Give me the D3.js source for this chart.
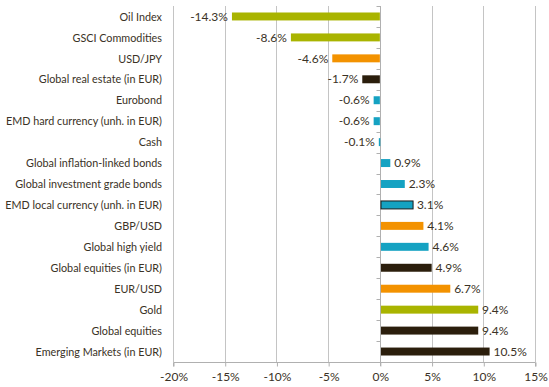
<!DOCTYPE html>
<html lang="en">
<head>
    <meta charset="UTF-8">
    <title>Asset class returns</title>
    <script src="https://d3js.org/d3.v7.min.js"></script>
    <style>
        body {
            margin: 0;
            padding: 0;
            background: #fff;
            font-family: Lato, "Open Sans", Arial, sans-serif;
        }
        text {
            fill: #3a3226;
        }
        .grid line {
            stroke: #c4c4c4;
            stroke-width: 1px;
        }
    </style>
</head>
<body>
    <script>
        // chart data
        const categories = [
            'Oil Index', 'GSCI Commodities', 'USD/JPY', 'Global real estate (in EUR)',
            'Eurobond', 'EMD hard currency (unh. in EUR)', 'Cash', 'Global inflation-linked bonds',
            'Global investment grade bonds', 'EMD local currency (unh. in EUR)', 'GBP/USD',
            'Global high yield', 'Global equities (in EUR)', 'EUR/USD', 'Gold',
            'Global equities', 'Emerging Markets (in EUR)'
        ];
        const values = [-14.3, -8.6, -4.6, -1.7, -0.6, -0.6, -0.1, 0.9, 2.3, 3.1, 4.1, 4.6, 4.9, 6.7, 9.4, 9.4, 10.5];
        const groups = [
            'commodity', 'commodity', 'fx', 'equity', 'bond', 'bond', 'bond', 'bond',
            'bond', 'bond-hl', 'fx', 'bond', 'equity', 'fx', 'commodity', 'equity', 'equity'
        ];
        const xTicks = [-20, -15, -10, -5, 0, 5, 10, 15];

        const colors = {
            'commodity': '#a9b400',
            'fx': '#f39200',
            'equity': '#2b1e0c',
            'bond': '#15a2c2',
            'bond-hl': '#15a2c2'
        };

        const width = 549, height = 387;
        const plotLeft = 173, plotRight = 535, plotTop = 6, plotBottom = 362;
        const fontSize = '12px';
        const squeeze = 0.9; // the original font is narrower than anything installed

        const svg = d3.select('body').append('svg')
            .attr('width', width)
            .attr('height', height);

        const x = d3.scaleLinear().domain([-20, 15]).range([plotLeft, plotRight]);
        const y = d3.scaleBand().domain(categories).range([plotTop, plotBottom]).paddingInner(0.62).paddingOuter(0.31);

        const rows = categories.map((c, i) => ({ name: c, value: values[i], group: groups[i] }));

        // vertical gridlines
        svg.append('g')
            .attr('class', 'grid')
            .selectAll('line')
            .data(xTicks.filter(t => t !== 0))
            .enter().append('line')
            .attr('x1', d => Math.round(x(d)) + 0.5)
            .attr('x2', d => Math.round(x(d)) + 0.5)
            .attr('y1', plotTop)
            .attr('y2', plotBottom);

        // bottom axis
        const xAxis = svg.append('g')
            .attr('transform', `translate(0.5,${plotBottom + 0.5})`)
            .call(d3.axisBottom(x).tickValues(xTicks).tickSize(4).tickPadding(6).tickFormat(d => d + '%'));
        xAxis.attr('font-family', null).attr('font-size', null);
        xAxis.select('.domain').attr('stroke', '#b0b0b0').attr('d', `M${plotLeft},4V0H${plotRight}V4`);
        xAxis.selectAll('.tick line').attr('stroke', '#b0b0b0');
        xAxis.selectAll('text').style('font-size', fontSize).attr('fill', '#3a3226');

        // zero axis with category ticks
        const step = y.step();
        const boundaries = d3.range(categories.length + 1).map(i => plotTop + i * step);
        const zeroX = Math.round(x(0)) + 0.5;
        const zeroAxis = svg.append('g');
        zeroAxis.append('line')
            .attr('x1', zeroX).attr('x2', zeroX)
            .attr('y1', plotTop).attr('y2', plotBottom + 4)
            .attr('stroke', '#b0b0b0');
        zeroAxis.selectAll('.cat-tick')
            .data(boundaries)
            .enter().append('line')
            .attr('x1', zeroX - 4).attr('x2', zeroX)
            .attr('y1', d => Math.round(d) + 0.5).attr('y2', d => Math.round(d) + 0.5)
            .attr('stroke', '#b0b0b0');

        // category labels (squeezed horizontally)
        svg.append('g')
            .attr('transform', `scale(${squeeze},1)`)
            .selectAll('text')
            .data(rows)
            .enter().append('text')
            .attr('x', 162 / squeeze)
            .attr('y', d => y(d.name) + y.bandwidth() / 2)
            .attr('dy', '0.35em')
            .attr('text-anchor', 'end')
            .style('font-size', fontSize)
            .text(d => d.name);

        // bars
        svg.append('g')
            .selectAll('rect')
            .data(rows)
            .enter().append('rect')
            .attr('x', d => d.value < 0 ? x(d.value) : zeroX + 0.5)
            .attr('y', d => y(d.name))
            .attr('width', d => Math.max(1.5, Math.abs(x(d.value) - x(0))))
            .attr('height', y.bandwidth())
            .attr('fill', d => colors[d.group])
            .attr('stroke', d => d.group === 'bond-hl' ? '#1a1a1a' : 'none')
            .attr('stroke-width', 1);

        // value labels
        svg.append('g')
            .selectAll('text')
            .data(rows)
            .enter().append('text')
            .attr('x', d => d.value < 0 ? x(d.value) - 4 : x(d.value) + 5)
            .attr('y', d => y(d.name) + y.bandwidth() / 2)
            .attr('dy', '0.35em')
            .attr('text-anchor', d => d.value < 0 ? 'end' : 'start')
            .style('font-size', fontSize)
            .text(d => d.value.toFixed(1) + '%');
    </script>
</body>
</html>
